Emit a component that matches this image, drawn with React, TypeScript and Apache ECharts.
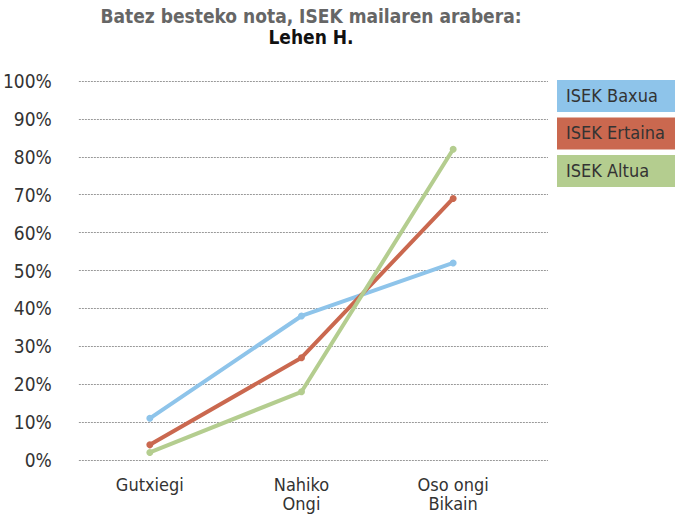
import React, { useEffect, useRef } from "react";
import * as echarts from "echarts";

const categories = ["Gutxiegi", "Nahiko\nOngi", "Oso ongi\nBikain"];
const seriesNames = ["ISEK Baxua", "ISEK Ertaina", "ISEK Altua"];
const baxua = [11, 38, 52];
const ertaina = [4, 27, 69];
const altua = [2, 18, 82];
const colors = ["#8EC4EA", "#CA684F", "#B4CD8F"];
const titleLine1 = "Batez besteko nota, ISEK mailaren arabera:";
const titleLine2 = "Lehen H.";

const FONT = "'DejaVu Sans Condensed', 'Liberation Sans Narrow', sans-serif";

export default function App() {
  const ref = useRef<HTMLDivElement>(null);
  useEffect(() => {
    if (!ref.current) return;
    const chart = echarts.init(ref.current, undefined, { renderer: "svg" });
    const values = [baxua, ertaina, altua];
    const legendGraphics: any[] = [];
    seriesNames.forEach((name, i) => {
      legendGraphics.push({
        type: "rect",
        left: 557,
        top: 80 + i * 37.5,
        shape: { width: 118, height: 32 },
        style: { fill: colors[i] },
      });
      legendGraphics.push({
        type: "text",
        left: 566,
        top: 86 + i * 37.5,
        style: { text: name, fill: "#333", font: `18px ${FONT}` },
      });
    });
    chart.setOption({
      animation: false,
      backgroundColor: "#fff",
      title: {
        text: `{a|${titleLine1}}\n{b|${titleLine2}}`,
        left: 306,
        textAlign: "center",
        top: 0,
        textStyle: {
          rich: {
            a: { fontFamily: FONT, fontWeight: "bold", fontSize: 19, color: "#666", lineHeight: 21, align: "center" },
            b: { fontFamily: FONT, fontWeight: "bold", fontSize: 19, color: "#111", lineHeight: 21, align: "center" },
          },
        },
      },
      grid: [
        { left: 74, right: 146, top: 81, bottom: 57 },
        { left: 74, right: 127, top: 81, bottom: 57 },
      ],
      xAxis: [
        {
          type: "category",
          gridIndex: 0,
          data: categories,
          boundaryGap: true,
          axisLine: { show: false },
          axisTick: { show: false },
          axisLabel: { fontFamily: FONT, fontSize: 18, color: "#333", lineHeight: 19, margin: 15 },
        },
        { type: "value", gridIndex: 1, min: 0, max: 1, show: false },
      ],
      yAxis: [
        { type: "value", gridIndex: 0, min: 0, max: 100, show: false },
        {
          type: "value",
          gridIndex: 1,
          min: 0,
          max: 100,
          interval: 10,
          axisLine: { show: false },
          axisTick: { show: false },
          axisLabel: { formatter: "{value}%", fontFamily: FONT, fontSize: 19, color: "#333", margin: 27 },
          splitLine: { lineStyle: { color: "#999", type: [2, 1], width: 1 } },
        },
      ],
      series: seriesNames.map((name, i) => ({
        name,
        type: "line",
        xAxisIndex: 0,
        yAxisIndex: 0,
        data: values[i],
        symbol: "circle",
        symbolSize: 7,
        lineStyle: { width: 4, color: colors[i] },
        itemStyle: { color: colors[i] },
      })),
      graphic: legendGraphics,
    });
    return () => chart.dispose();
  }, []);
  return <div ref={ref} style={{ position: "absolute", left: 0, top: 0, width: 675, height: 517 }} />;
}
